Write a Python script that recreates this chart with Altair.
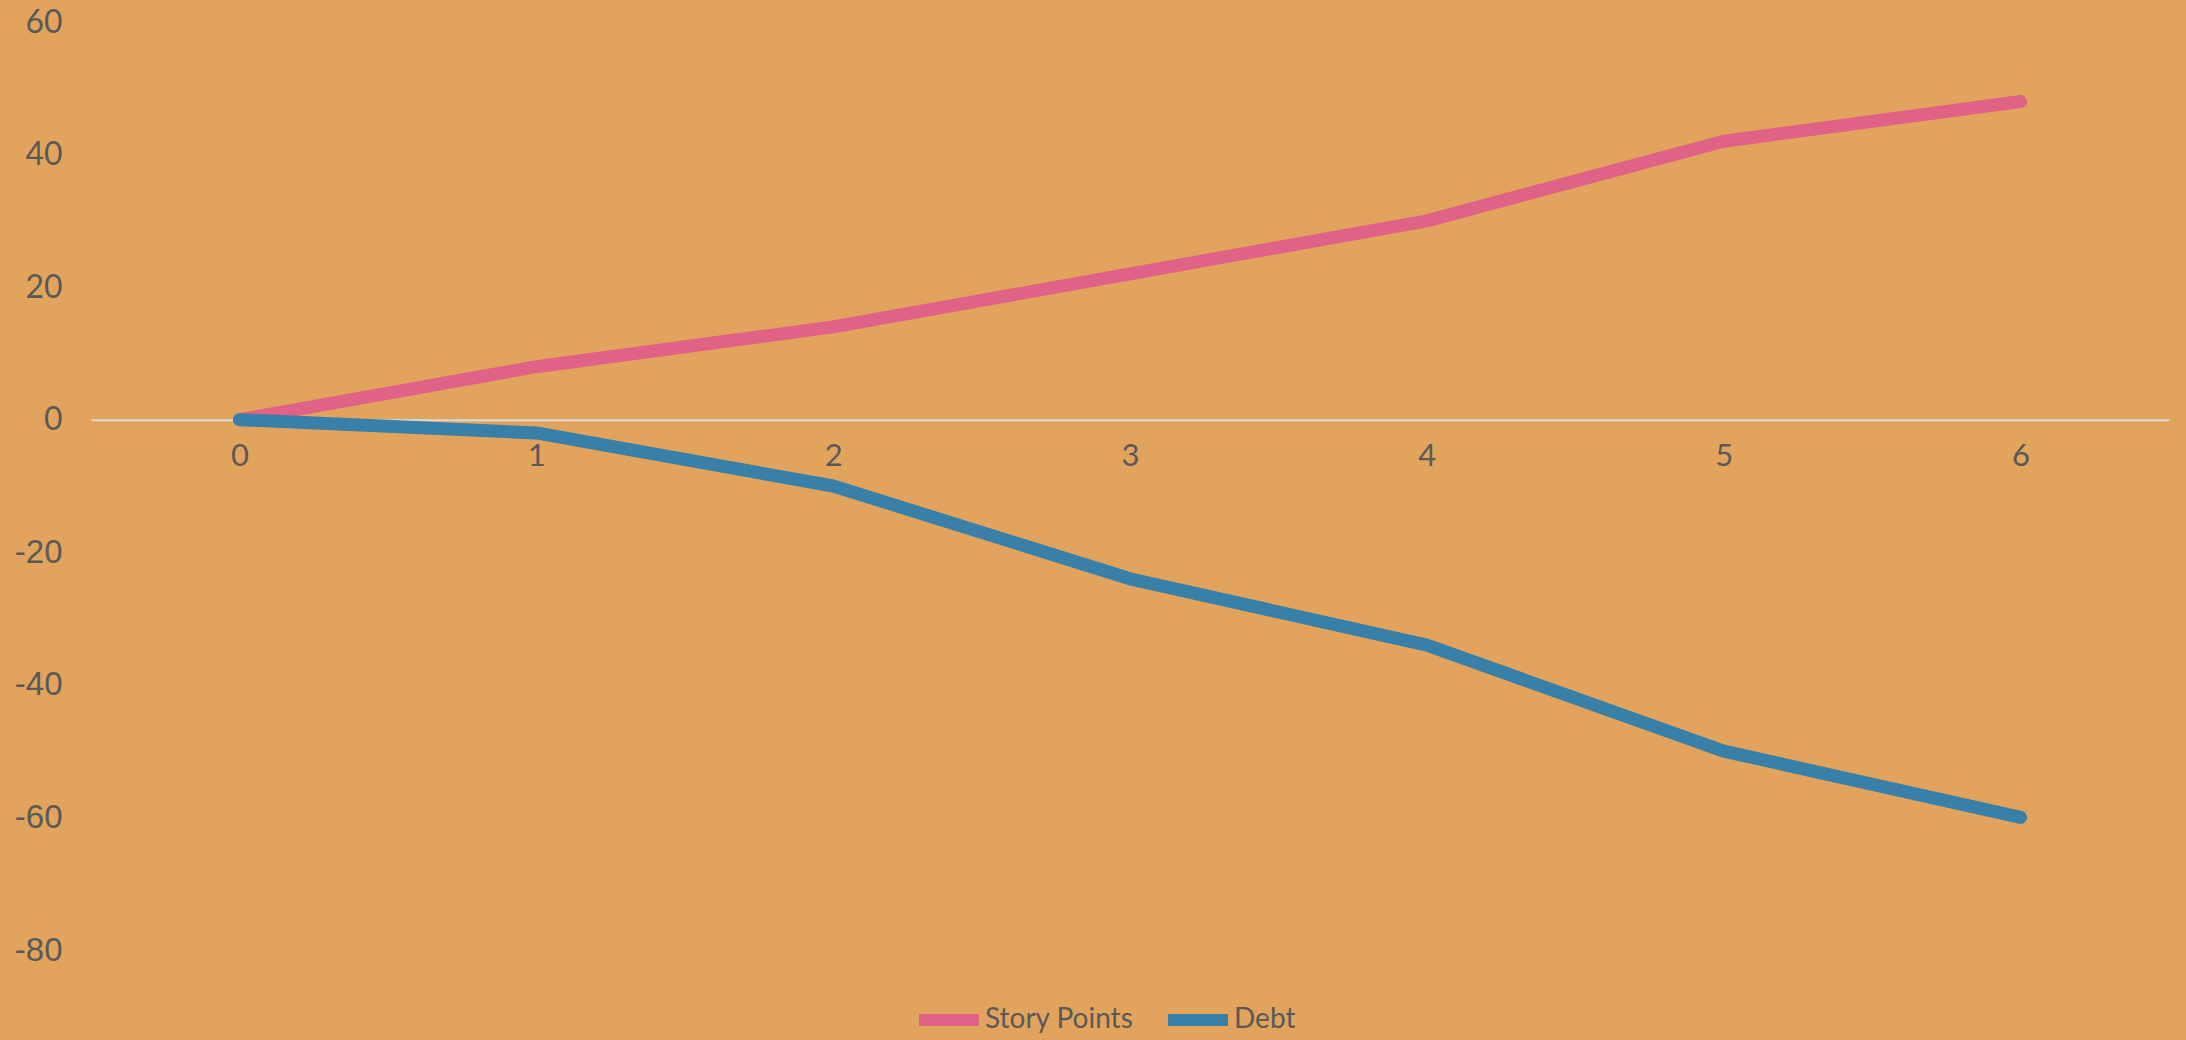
import altair as alt
import pandas as pd

sprints = [0, 1, 2, 3, 4, 5, 6]
story_points = [0, 8, 14, 22, 30, 42, 48]
debt = [0, -2, -10, -24, -34, -50, -60]
series_names = ["Story Points", "Debt"]
series_colors = ["#E06287", "#3880A8"]
y_ticks = [-80, -60, -40, -20, 0, 20, 40, 60]

df = pd.DataFrame(
    {"Sprint": sprints * 2,
     "Value": story_points + debt,
     "Series": [series_names[0]] * len(sprints) + [series_names[1]] * len(sprints)}
)

W, H = 2078, 928
y_min, y_max = -80, 60
zero_offset = -H * (0 - y_min) / (y_max - y_min)

x_enc = alt.X(
    "Sprint:Q",
    scale=alt.Scale(domain=[-0.5, 6.5], nice=False, zero=False),
    axis=alt.Axis(
        values=sprints, title=None, ticks=False, grid=False,
        domain=True, domainColor="#D9D9D9", domainWidth=2,
        offset=zero_offset, labelFont="Lato", labelFontSize=31,
        labelColor="#595959", labelPadding=22, format="d",
    ),
)
y_enc = alt.Y(
    "Value:Q",
    scale=alt.Scale(domain=[y_min, y_max], nice=False),
    axis=alt.Axis(
        values=y_ticks, title=None, ticks=False, grid=False, domain=False,
        labelColor="#595959", labelPadding=29,
        labelExpr="'' + datum.value",
        labelFont={"condition": {"test": "datum.value < 0", "value": "Liberation Sans"}, "value": "Lato"},
        labelFontSize={"condition": {"test": "datum.value < 0", "value": 33}, "value": 32},
    ),
)
color_enc = alt.Color(
    "Series:N",
    scale=alt.Scale(domain=series_names, range=series_colors),
    legend=alt.Legend(
        title=None, orient="none", direction="horizontal",
        legendX=822, legendY=962,
        symbolType="stroke", symbolSize=3600, symbolStrokeWidth=12,
        labelFont="Lato", labelFontSize=28, labelColor="#595959",
        labelOffset=0, columnPadding=10, padding=0,
    ),
)

base = alt.Chart(df).mark_line(strokeWidth=13, strokeCap="round", strokeJoin="round")
pink = base.transform_filter(alt.datum.Series == series_names[0]).encode(x=x_enc, y=y_enc, color=color_enc)
blue = base.transform_filter(alt.datum.Series == series_names[1]).encode(x=x_enc, y=y_enc, color=color_enc)

chart = alt.layer(pink, blue).properties(
    width=W, height=H,
    background="#E2A45C",
    padding={"left": 91, "top": 22, "right": 17, "bottom": 90},
    autosize=alt.AutoSizeParams(type="none"),
).configure_view(stroke=None)

chart.save("out.html", embed_options={"renderer": "svg", "actions": False})
